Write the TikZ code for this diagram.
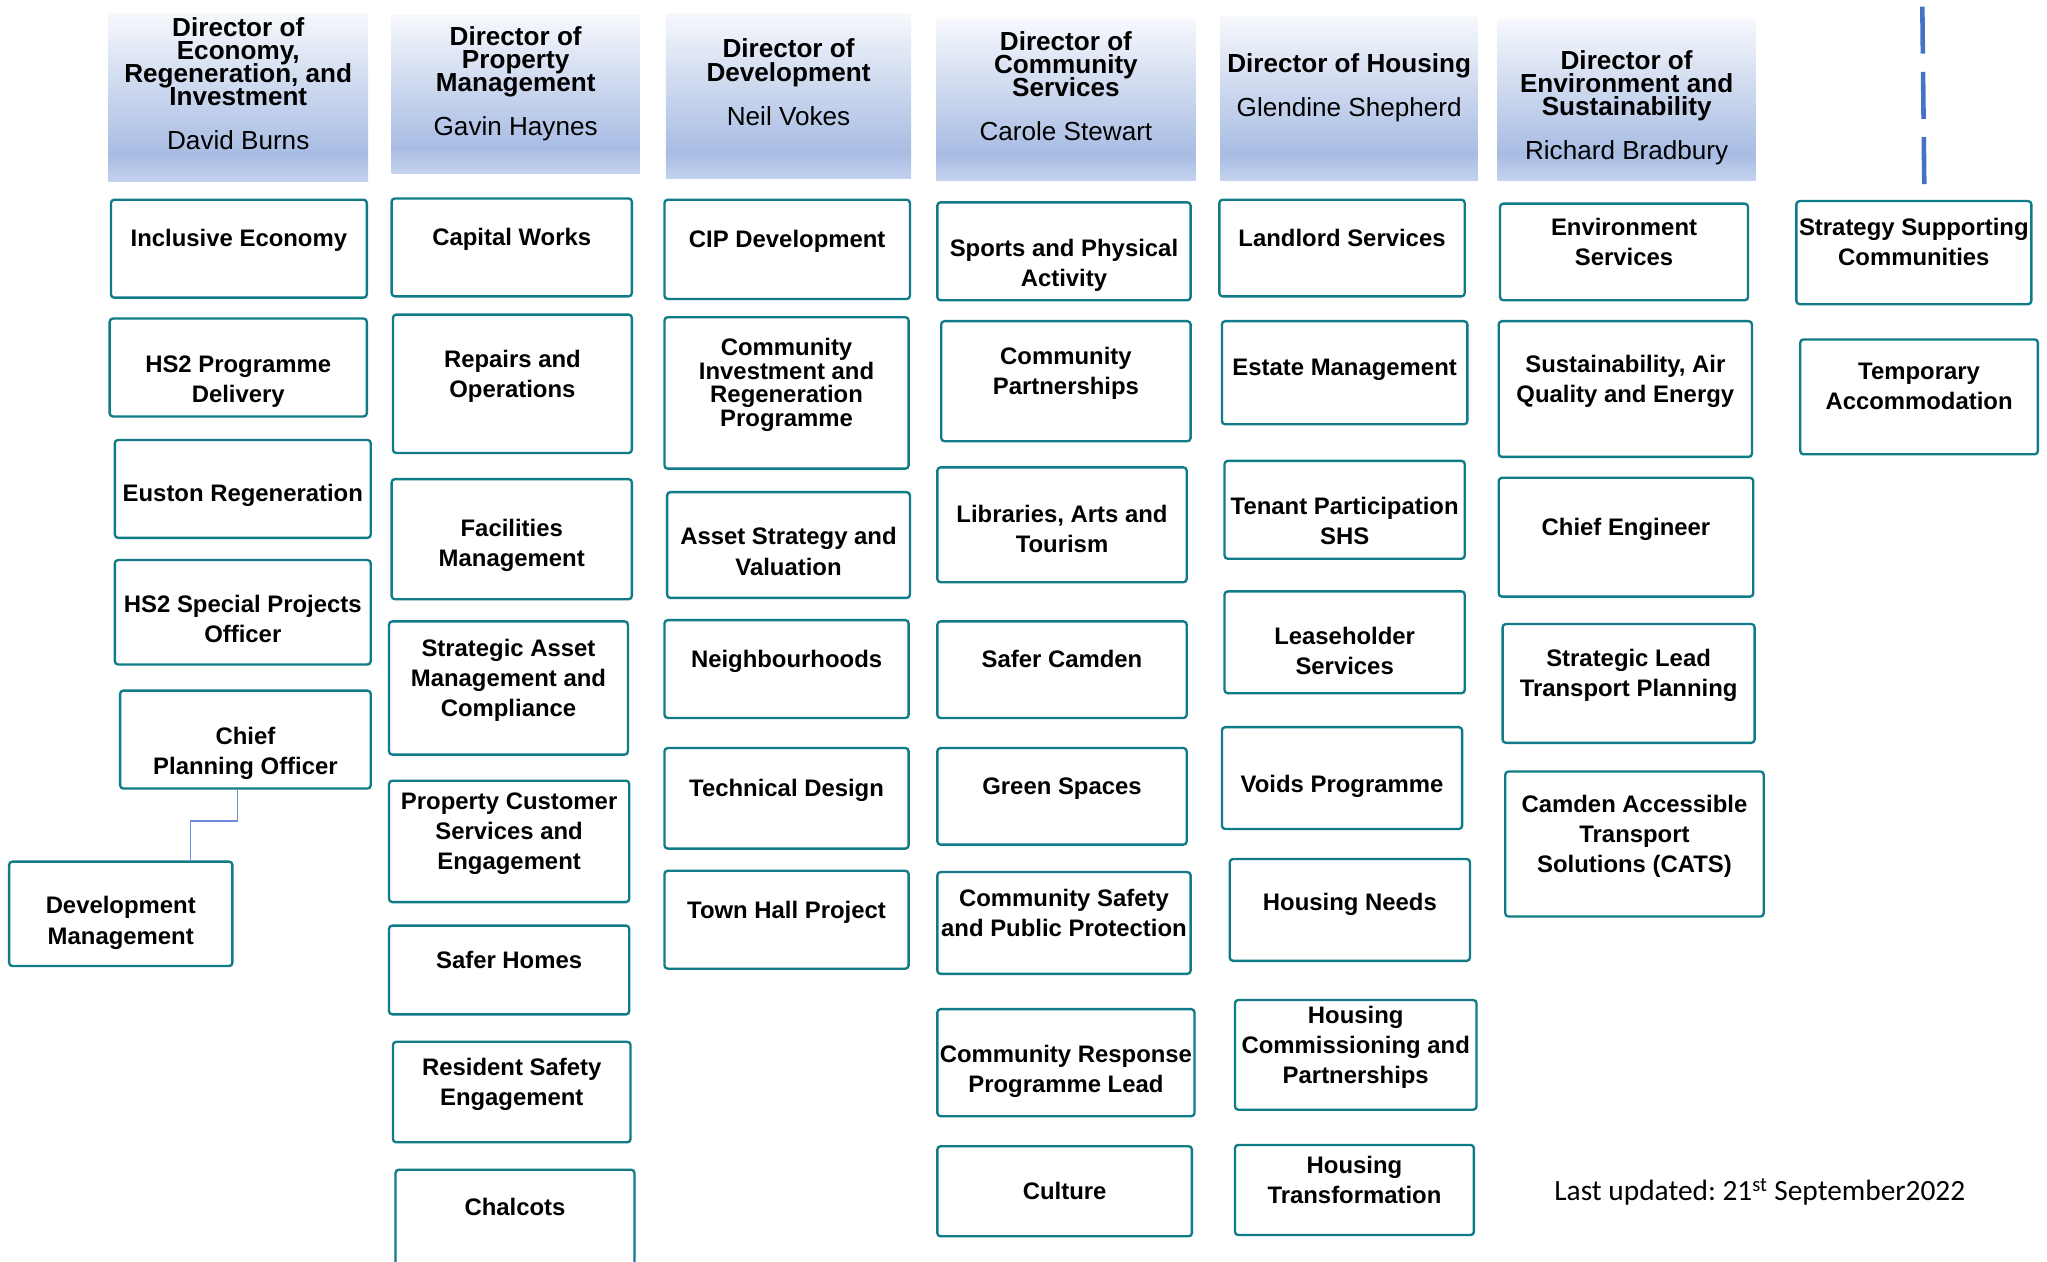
\documentclass[tikz,border=0pt]{standalone}
\usepackage{fontspec}
\setmainfont{Liberation Sans}
\newfontfamily\notefont{Carlito}
\usetikzlibrary{positioning}

\definecolor{unitline}{HTML}{0F7C87}
\definecolor{hdrtop}{HTML}{F6F8FC}
\definecolor{hdrmid}{HTML}{A8BCE3}
\definecolor{hdrbot}{HTML}{C4D2EE}
\definecolor{linkblue}{HTML}{6E8ED8}
\definecolor{dashblue}{HTML}{4472C4}
\pgfdeclareverticalshading{directorshade}{100bp}{color(0bp)=(hdrbot); color(25bp)=(hdrbot); color(33bp)=(hdrmid); color(75bp)=(hdrtop); color(100bp)=(hdrtop)}

% empty strut line under / over the text, as in the slide boxes
\newcommand{\padbot}[1][-14pt]{\\[#1]\strut}
\newcommand{\padtop}[1][-5pt]{\strut\\[#1]}

\begin{document}
\begin{tikzpicture}[x=1pt,y=-1pt,
  director/.style={shade,shading=directorshade,align=center,inner sep=0pt,
    font={\fontsize{20}{17.8}\selectfont\bfseries\lineskiplimit-50pt}},
  unit/.style={draw=unitline,line width=1.8pt,rounded corners=2.5pt,align=center,inner sep=0pt,
    font={\fontsize{18.3}{23}\selectfont\bfseries\lineskiplimit-50pt}},
  link/.style={draw=linkblue,line width=1.2pt},
  dashline/.style={draw=dashblue,line width=3.5pt,dash pattern=on 36pt off 14pt},
  note/.style={font={\notefont\fontsize{22.5}{27}\selectfont\frenchspacing}}]
  \useasboundingbox[fill=white] (0,0) rectangle (1568,966);

  % Economy, Regeneration and Investment
  \node[director, minimum width=199, minimum height=129] (dEco) at (182.5,74.5) {Director of\\Economy,\\Regeneration, and\\Investment\\[16pt]{\mdseries David Burns}\padbot[-2pt]};
  \node[unit, minimum width=196, minimum height=75] (incl)     at (183,190.5)   {Inclusive Economy\padbot};
  \node[unit, minimum width=197, minimum height=75] (hs2del)   at (182.5,281.5) {\padtop HS2 Programme\\Delivery};
  \node[unit, minimum width=196, minimum height=75] (euston)   at (186,374.5)   {\padtop[-16pt]Euston Regeneration};
  \node[unit, minimum width=196, minimum height=80] (hs2spo)   at (186,469)     {\padtop[-15pt]HS2 Special Projects\\Officer};
  \node[unit, minimum width=192, minimum height=75] (cpo)      at (188,566.5)   {\padtop Chief\\Planning Officer};
  \node[unit, minimum width=171, minimum height=80] (devmgt)   at (92.5,700)    {\padtop[-12pt]Development\\Management};

  % Property Management
  \node[director, minimum width=190, minimum height=121] (dProp) at (395,72.5) {Director of\\Property\\Management\\[16pt]{\mdseries Gavin Haynes}\padbot[-2pt]};
  \node[unit, minimum width=184, minimum height=75]  (capital)    at (392,189.5)   {Capital Works\padbot};
  \node[unit, minimum width=183, minimum height=106] (repairs)    at (392.5,294)   {Repairs and\\Operations\padbot};
  \node[unit, minimum width=184, minimum height=92]  (facilities) at (392,413)     {\padtop[-16pt]Facilities\\Management};
  \node[unit, minimum width=183, minimum height=102] (samc)       at (389.5,527)   {Strategic Asset\\Management and\\Compliance\padbot};
  \node[unit, minimum width=184, minimum height=93]  (pcse)       at (390,644.5)   {Property Customer\\Services and\\Engagement\padbot};
  \node[unit, minimum width=184, minimum height=68]  (saferhomes) at (390,743)     {Safer Homes\padbot};
  \node[unit, minimum width=182, minimum height=77]  (resident)   at (392,836.5)   {Resident Safety\\Engagement\padbot};
  \node[unit, minimum width=183, minimum height=78]  (chalcots)   at (394.5,935)   {Chalcots\padbot[-9pt]};

  % Development
  \node[director, minimum width=188, minimum height=127] (dDev) at (604,73.5) {Director of\\Development\\[16pt]{\mdseries Neil Vokes}\padbot[-2pt]};
  \node[unit, minimum width=188, minimum height=76]  (cip)      at (603,191)     {CIP Development\padbot};
  \node[unit, minimum width=187, minimum height=116,
        font={\fontsize{18.3}{18}\selectfont\bfseries\lineskiplimit-50pt}]
                                                     (cirp)     at (602.5,301)   {Community\\Investment and\\Regeneration\\Programme\padbot[-7pt]};
  \node[unit, minimum width=186, minimum height=81]  (asset)    at (604,417.5)   {\padtop[-16pt]Asset Strategy and\\Valuation};
  \node[unit, minimum width=187, minimum height=75]  (neigh)    at (602.5,512.5) {Neighbourhoods\padbot};
  \node[unit, minimum width=187, minimum height=77]  (techdes)  at (602.5,611.5) {Technical Design\padbot};
  \node[unit, minimum width=187, minimum height=75]  (townhall) at (602.5,704.5) {Town Hall Project\padbot};

  % Community Services
  \node[director, minimum width=199, minimum height=123] (dComm) at (816.5,76.5) {Director of\\Community\\Services\\[16pt]{\mdseries Carole Stewart}\padbot[-2pt]};
  \node[unit, minimum width=194, minimum height=75] (sports)      at (815,192.5)   {\padtop Sports and Physical\\Activity};
  \node[unit, minimum width=191, minimum height=92] (commpart)    at (816.5,292)   {Community\\Partnerships\padbot};
  \node[unit, minimum width=191, minimum height=88] (libraries)   at (813.5,402)   {\padtop[-19pt]Libraries, Arts and\\Tourism};
  \node[unit, minimum width=191, minimum height=74] (safercamden) at (813.5,513)   {Safer Camden\padbot};
  \node[unit, minimum width=191, minimum height=74] (green)       at (813.5,610)   {Green Spaces\padbot};
  \node[unit, minimum width=194, minimum height=78] (safety)      at (815,707)     {Community Safety\\and Public Protection\padbot};
  \node[unit, minimum width=197, minimum height=82] (response)    at (816.5,814)   {\padtop[-12pt]Community Response\\Programme Lead};
  \node[unit, minimum width=195, minimum height=69] (culture)     at (815.5,912.5) {Culture};

  % Housing
  \node[director, minimum width=197, minimum height=125] (dHousing) at (1033.5,75.5) {Director of Housing\\[16pt]{\mdseries Glendine Shepherd}\padbot[-2pt]};
  \node[unit, minimum width=188, minimum height=74] (landlord)   at (1028,190)     {Landlord Services\padbot};
  \node[unit, minimum width=188, minimum height=79] (estate)     at (1030,285.5)   {Estate Management\padbot[-21pt]};
  \node[unit, minimum width=184, minimum height=75] (tenant)     at (1030,390.5)   {\padtop[-9pt]Tenant Participation\\SHS};
  \node[unit, minimum width=184, minimum height=78] (leasehold)  at (1030,492)     {\padtop[-13pt]Leaseholder\\Services};
  \node[unit, minimum width=184, minimum height=78] (voids)      at (1028,596)     {\padtop[-13pt]Voids Programme};
  \node[unit, minimum width=184, minimum height=78] (needs)      at (1034,697)     {Housing Needs\padbot[-17pt]};
  \node[unit, minimum width=185, minimum height=84] (commission) at (1038.5,808)   {Housing\\Commissioning and\\Partnerships\padbot};
  \node[unit, minimum width=183, minimum height=69] (transform)  at (1037.5,911.5) {Housing\\Transformation\padbot};

  % Environment and Sustainability
  \node[director, minimum width=198, minimum height=123] (dEnv) at (1246,76.5) {\padtop[-4pt]Director of\\Environment and\\Sustainability\\[16pt]{\mdseries Richard Bradbury}};
  \node[unit, minimum width=190, minimum height=74]  (envserv)   at (1244,193)    {Environment\\Services\padbot};
  \node[unit, minimum width=194, minimum height=104] (sustain)   at (1245,298)    {Sustainability, Air\\Quality and Energy\padbot};
  \node[unit, minimum width=195, minimum height=91]  (chiefeng)  at (1245.5,411.5) {Chief Engineer\padbot};
  \node[unit, minimum width=193, minimum height=91]  (transport) at (1247.5,523.5) {Strategic Lead\\Transport Planning\padbot};
  \node[unit, minimum width=198, minimum height=111] (cats)      at (1252,646.5)  {Camden Accessible\\Transport\\Solutions (CATS)\padbot};

  % dotted reporting line
  \coordinate (rtop) at (1472.5,5);
  \coordinate (rbot) at (1474,142);
  \draw[dashline] (rtop) -- (rbot);
  \node[unit, minimum width=180, minimum height=79] (ssc)     at (1466,193.5) {Strategy Supporting\\Communities\padbot};
  \node[unit, minimum width=182, minimum height=88] (tempacc) at (1470,304)   {Temporary\\Accommodation\padbot};

  \draw[link] ([xshift=-6pt]cpo.south) -- ++(0,24) -| ([xshift=-33pt]devmgt.north east);

  \node[note] (updated) at (1348,913) {Last updated: 21\textsuperscript{st} September2022};
\end{tikzpicture}
\end{document}
